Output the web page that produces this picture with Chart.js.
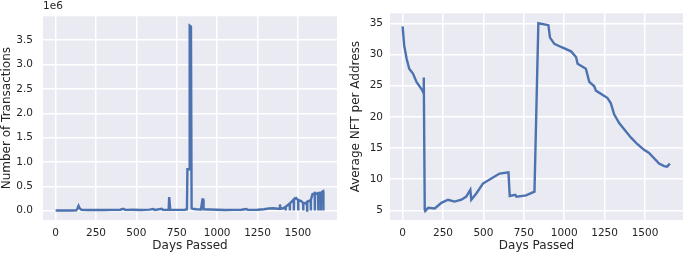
<!DOCTYPE html>
<html>
<head>
<meta charset="utf-8">
<script src="https://cdn.jsdelivr.net/npm/chart.js@4/dist/chart.umd.min.js"></script>
<style>
  html, body { margin: 0; padding: 0; background: #fff; }
  #wrap { position: relative; width: 685px; height: 256px; }
  canvas { position: absolute; top: 0; }
</style>
</head>
<body>
<div id="wrap">
  <canvas id="txChart" width="342" height="256" style="left:0"></canvas>
  <canvas id="nftChart" width="342" height="256" style="left:343px"></canvas>
</div>
<script>
// left panel: daily transactions
const txDays = [0, 30, 60, 100, 128, 135, 142, 150, 160, 200, 250, 300, 350, 400, 420, 430, 480, 530, 580, 606, 615, 657, 665,
  700, 703, 707, 710, 760, 800, 813, 816, 826, 830, 838, 842, 848, 870, 900, 909, 913, 916, 950, 1000, 1050, 1100, 1150,
  1180, 1190, 1250, 1290, 1320, 1350, 1375, 1385, 1389, 1392, 1409,
  1423, 1424, 1425, 1449, 1450, 1451, 1474, 1475, 1476, 1489, 1501, 1502, 1503, 1520, 1532, 1533, 1534, 1545,
  1556, 1557, 1558, 1570, 1579, 1580, 1581, 1590, 1604, 1605, 1606, 1615, 1625, 1626, 1627, 1641, 1642, 1643,
  1656, 1657, 1658, 1659];
const txCounts = [5000, 4000, 6000, 5000, 8000, 40000, 100000, 45000, 20000, 15000, 18000, 14000, 17000, 20000, 40000, 18000, 20000, 16000, 22000, 35000, 15000, 40000, 18000,
  20000, 280000, 280000, 20000, 18000, 20000, 30000, 850000, 850000, 3800000, 3780000, 50000, 40000, 30000, 25000, 230000, 230000, 30000, 25000, 20000, 15000, 18000, 20000,
  35000, 18000, 20000, 30000, 45000, 50000, 40000, 45000, 130000, 40000, 50000,
  80000, 5000, 80000, 150000, 5000, 150000, 230000, 5000, 230000, 260000, 220000, 5000, 220000, 200000, 160000, 5000, 160000, 150000,
  180000, 5000, 180000, 200000, 220000, 5000, 220000, 340000, 360000, 5000, 360000, 350000, 360000, 5000, 360000, 370000, 5000, 370000,
  400000, 5000, 400000, 5000];
const txTicksX = [0, 250, 500, 750, 1000, 1250, 1500];
const txTicksY = [0, 500000, 1000000, 1500000, 2000000, 2500000, 3000000, 3500000];

// right panel: average NFT per address
const nftDays = [0, 10, 25, 41, 65, 86, 121, 129, 131, 137, 140, 158, 199, 240, 281, 322, 364, 394, 419, 425, 456, 497, 549, 600, 655,
  663, 697, 705, 764, 816, 840, 902, 912, 939, 980, 1042, 1073, 1083, 1134, 1155, 1186, 1196, 1268, 1288, 1309, 1340, 1412,
  1453, 1494, 1525, 1587, 1618, 1636, 1654];
const nftAvg = [34.5, 31.4, 29.3, 27.7, 26.9, 25.6, 24.3, 23.8, 26.3, 5.1, 4.9, 5.4, 5.3, 6.2, 6.7, 6.4, 6.7, 7.2, 8.3, 6.7, 7.7, 9.3, 10.1, 10.9, 11.1,
  7.3, 7.5, 7.2, 7.4, 8.0, 35.0, 34.7, 32.7, 31.7, 31.2, 30.5, 29.6, 28.5, 27.7, 25.6, 24.9, 24.2, 23.0, 22.2, 20.4, 19.0, 16.7,
  15.6, 14.7, 14.2, 12.5, 12.1, 12.0, 12.5];
const nftTicksX = [0, 250, 500, 750, 1000, 1250, 1500];
const nftTicksY = [5, 10, 15, 20, 25, 30, 35];

const FONT = 'DejaVu Sans';
const TXT = '#262626';
const LINE = '#4C72B0';

const bgPlugin = {
  id: 'bg',
  beforeDraw(chart) {
    const { ctx, chartArea: a } = chart;
    ctx.save();
    ctx.fillStyle = '#EAEAF2';
    ctx.fillRect(a.left, a.top, a.width, a.height);
    ctx.restore();
  }
};

const offsetPlugin = {
  id: 'offsetText',
  afterDraw(chart, args, opts) {
    if (!opts.text) return;
    const { ctx, chartArea: a } = chart;
    ctx.save();
    ctx.fillStyle = TXT;
    ctx.font = '10.5px "' + FONT + '"';
    ctx.textBaseline = 'alphabetic';
    ctx.fillText(opts.text, a.left, 8.5);
    ctx.restore();
  }
};

function makeChart(id, xs, ys, o) {
  const ctx = document.getElementById(id).getContext('2d');
  return new Chart(ctx, {
    type: 'line',
    data: {
      datasets: [{
        data: xs.map((x, i) => ({ x: x, y: ys[i] })),
        borderColor: LINE,
        borderWidth: 2.4,
        pointRadius: 0,
        tension: 0,
        fill: false
      }]
    },
    options: {
      responsive: false,
      animation: false,
      devicePixelRatio: 1,
      layout: { padding: { top: 11, right: o.padRight, left: 0, bottom: 0 } },
      plugins: {
        legend: { display: false },
        tooltip: { enabled: false },
        offsetText: { text: o.offset || '' }
      },
      scales: {
        x: {
          type: 'linear',
          min: o.xMin, max: o.xMax,
          afterBuildTicks: s => { s.ticks = o.xTicks.map(v => ({ value: v })); },
          afterFit: s => { s.height = 36; },
          grid: { color: '#FFFFFF', lineWidth: 1.5, drawTicks: false },
          border: { display: false },
          ticks: { color: TXT, font: { family: FONT, size: 10.5 }, padding: 7, maxRotation: 0,
            callback: v => String(v) },
          title: { display: true, text: 'Days Passed', color: TXT, font: { family: FONT, size: 12 },
            padding: { top: 0, bottom: 3 } }
        },
        y: {
          min: o.yMin, max: o.yMax,
          afterBuildTicks: s => { s.ticks = o.yTicks.map(v => ({ value: v })); },
          afterFit: s => { s.width = o.yWidth; },
          grid: { color: '#FFFFFF', lineWidth: 1.5, drawTicks: false },
          border: { display: false },
          ticks: { color: TXT, font: { family: FONT, size: 10.5 }, padding: o.yPad, callback: o.yFmt },
          title: { display: true, text: o.yTitle, color: TXT, font: { family: FONT, size: 12 },
            padding: { top: o.titlePad, bottom: 0 } }
        }
      }
    },
    plugins: [bgPlugin, offsetPlugin]
  });
}

makeChart('txChart', txDays, txCounts, {
  xMin: -78, xMax: 1742, yMin: -190000, yMax: 3990000,
  xTicks: txTicksX, yTicks: txTicksY,
  yWidth: 43, padRight: 5, yPad: 10, titlePad: 0,
  yTitle: 'Number of Transactions', offset: '1e6',
  yFmt: v => (v / 1e6).toFixed(1)
});

makeChart('nftChart', nftDays, nftAvg, {
  xMin: -78, xMax: 1735, yMin: 3.45, yMax: 36.6,
  xTicks: nftTicksX, yTicks: nftTicksY,
  yWidth: 47, padRight: 2, yPad: 7, titlePad: 6,
  yTitle: 'Average NFT per Address',
  yFmt: v => String(v)
});
</script>
</body>
</html>
